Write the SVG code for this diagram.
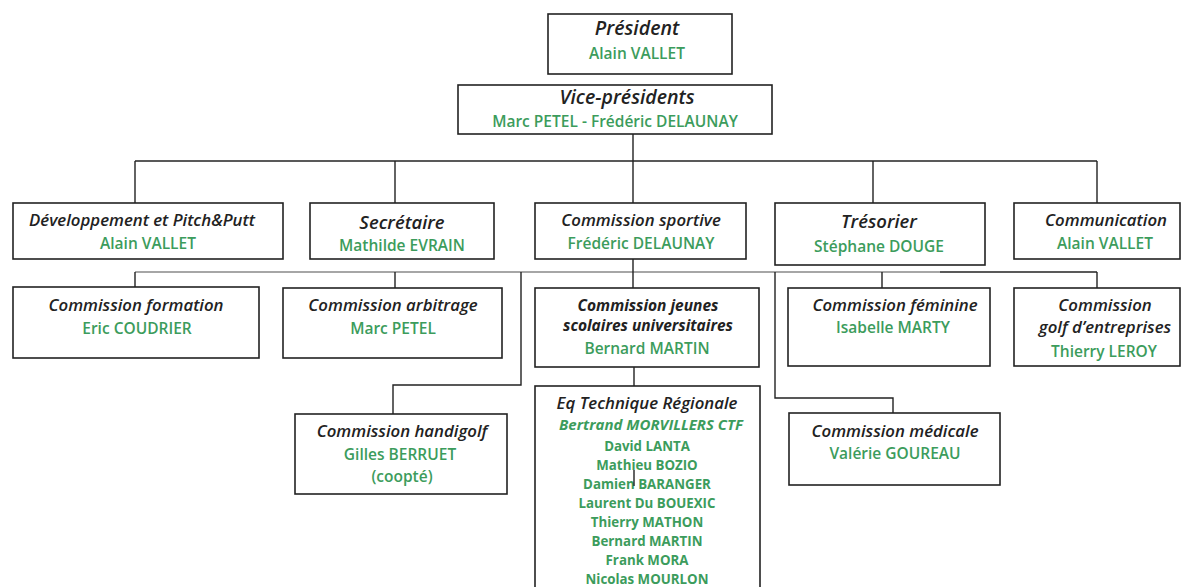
<svg xmlns="http://www.w3.org/2000/svg" width="1185" height="587" viewBox="0 0 1185 587">
<style>
.box{fill:#fff;stroke:#222;stroke-width:1.6}
.ln{fill:none;stroke:#222;stroke-width:1.4}
.lg{fill:none;stroke:#888;stroke-width:1.4}
text{font-family:"Open Sans","Liberation Sans",sans-serif;text-anchor:middle}
.t{font-style:italic;font-weight:600;fill:#222;font-size:16.8px}
.tj{font-style:italic;font-weight:700;fill:#222;font-size:15.5px}
.tl{font-style:italic;font-weight:600;fill:#222;font-size:18.5px}
.tx{font-style:italic;font-weight:600;fill:#222;font-size:19.5px}
.n{font-weight:600;fill:#3c9c5c;font-size:15.5px}
.m{font-weight:700;fill:#3c9c5c;font-size:13.3px}
</style>
<rect width="1185" height="587" fill="#fff"/>
<g id="connectors">
<line class="ln" x1="633" y1="134" x2="633" y2="203"/>
<line class="ln" x1="135" y1="161" x2="1097" y2="161"/>
<line class="ln" x1="135" y1="161" x2="135" y2="203"/>
<line class="ln" x1="395" y1="161" x2="395" y2="203"/>
<line class="ln" x1="873" y1="161" x2="873" y2="203"/>
<line class="ln" x1="1097" y1="161" x2="1097" y2="203"/>
<line class="lg" x1="135" y1="272" x2="940" y2="272"/>
<line class="ln" x1="940" y1="272" x2="1097" y2="272"/>
<line class="ln" x1="135" y1="272" x2="135" y2="287"/>
<line class="ln" x1="395" y1="272" x2="395" y2="288"/>
<line class="ln" x1="633" y1="259" x2="633" y2="288"/>
<line class="ln" x1="882" y1="272" x2="882" y2="288"/>
<line class="ln" x1="1097" y1="272" x2="1097" y2="288"/>
<polyline class="ln" points="521,272 521,385 393,385 393,414"/>
<polyline class="ln" points="775,272 775,398 893,398 893,413"/>
<line class="ln" x1="634" y1="367" x2="634" y2="386"/>
</g>
<g id="president"><rect class="box" x="548" y="14" width="184" height="60"/>
<text class="tx" x="637" y="35">Président</text>
<text class="n" x="637" y="59">Alain VALLET</text></g>
<g id="vice-presidents"><rect class="box" x="458" y="85" width="314" height="49"/>
<text class="tx" x="627" y="104">Vice-présidents</text>
<text class="n" x="615" y="127">Marc PETEL -  Frédéric DELAUNAY</text></g>
<g id="developpement"><rect class="box" x="13" y="203" width="270" height="56"/>
<text class="t" x="142" y="226">Développement et Pitch&amp;Putt</text>
<text class="n" x="148" y="249">Alain VALLET</text></g>
<g id="secretaire"><rect class="box" x="310" y="203" width="184" height="56"/>
<text class="tl" x="402" y="229">Secrétaire</text>
<text class="n" x="402" y="251">Mathilde EVRAIN</text></g>
<g id="commission-sportive"><rect class="box" x="535" y="203" width="211" height="56"/>
<text class="t" x="641" y="226">Commission sportive</text>
<text class="n" x="641" y="249">Frédéric DELAUNAY</text></g>
<g id="tresorier"><rect class="box" x="775" y="203" width="210" height="62"/>
<text class="tl" x="879" y="228">Trésorier</text>
<text class="n" x="879" y="252">Stéphane DOUGE</text></g>
<g id="communication"><rect class="box" x="1014" y="203" width="166" height="56"/>
<text class="t" x="1106" y="226">Communication</text>
<text class="n" x="1105" y="249">Alain VALLET</text></g>
<g id="commission-formation"><rect class="box" x="13" y="287" width="246" height="71"/>
<text class="t" x="136" y="311">Commission formation</text>
<text class="n" x="137" y="334">Eric COUDRIER</text></g>
<g id="commission-arbitrage"><rect class="box" x="283" y="288" width="219" height="70"/>
<text class="t" x="393" y="311">Commission arbitrage</text>
<text class="n" x="393" y="334">Marc PETEL</text></g>
<g id="commission-jeunes"><rect class="box" x="535" y="288" width="224" height="79"/>
<text class="tj" x="648" y="311">Commission jeunes</text>
<text class="tj" x="648" y="331">scolaires universitaires</text>
<text class="n" x="647" y="354">Bernard MARTIN</text></g>
<g id="commission-feminine"><rect class="box" x="788" y="288" width="202" height="78"/>
<text class="t" x="895" y="311">Commission féminine</text>
<text class="n" x="893" y="333">Isabelle MARTY</text></g>
<g id="commission-golf-entreprises"><rect class="box" x="1014" y="288" width="166" height="78"/>
<text class="t" x="1105" y="311">Commission</text>
<text class="t" x="1105" y="333">golf d’entreprises</text>
<text class="n" x="1104" y="357">Thierry LEROY</text></g>
<g id="commission-handigolf"><rect class="box" x="295" y="414" width="212" height="80"/>
<text class="t" x="402" y="437">Commission handigolf</text>
<text class="n" x="400" y="460">Gilles BERRUET</text>
<text class="n" x="402" y="482">(coopté)</text></g>
<g id="eq-technique"><rect class="box" x="535" y="386" width="225" height="210"/>
<text class="t" x="647" y="409">Eq Technique Régionale</text>
<text class="m" x="651" y="430" style="font-style:italic;font-size:15px">Bertrand MORVILLERS CTF</text>
<text class="m" x="647" y="451">David LANTA</text>
<text class="m" x="647" y="470">Mathieu BOZIO</text>
<text class="m" x="647" y="489">Damien BARANGER</text>
<text class="m" x="647" y="508">Laurent Du BOUEXIC</text>
<text class="m" x="647" y="527">Thierry MATHON</text>
<text class="m" x="647" y="546">Bernard MARTIN</text>
<text class="m" x="647" y="565">Frank MORA</text>
<text class="m" x="647" y="584">Nicolas MOURLON</text>
<line class="ln" x1="634" y1="470" x2="634" y2="486"/></g>
<g id="commission-medicale"><rect class="box" x="789" y="413" width="211" height="72"/>
<text class="t" x="895" y="437">Commission médicale</text>
<text class="n" x="895" y="459">Valérie GOUREAU</text></g>
</svg>
